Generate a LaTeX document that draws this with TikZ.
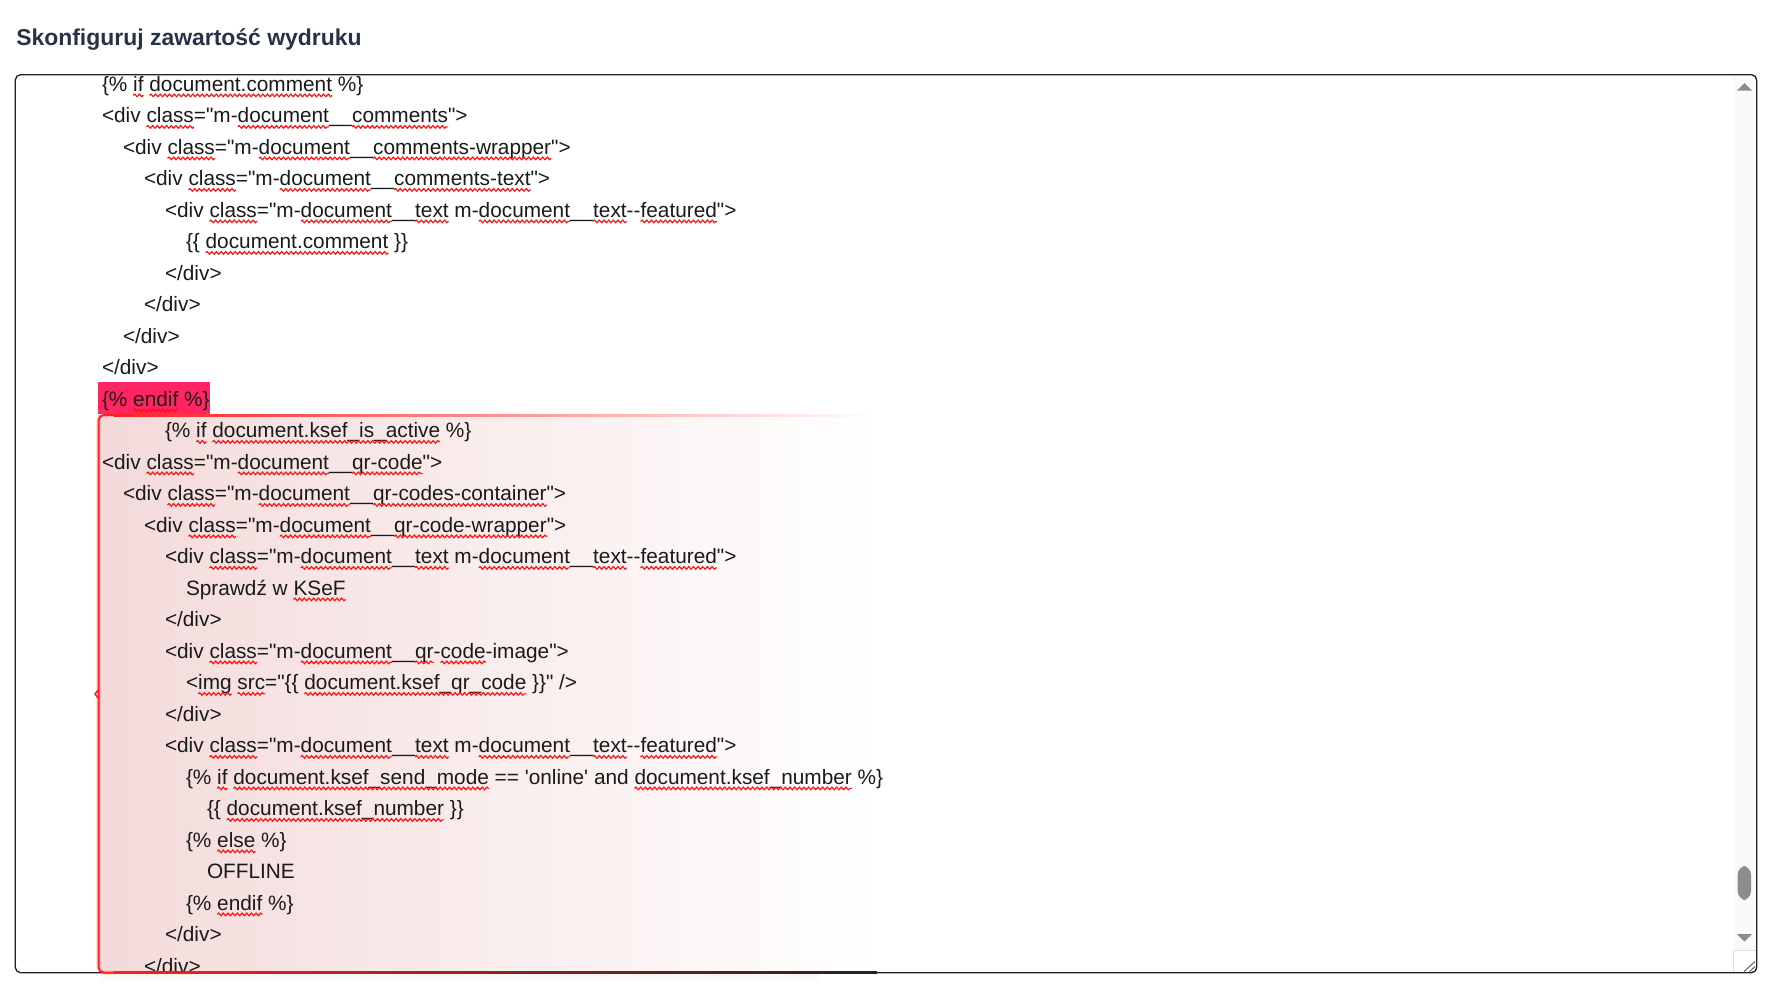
\documentclass[tikz,border=0pt]{standalone}
\usepackage{fontspec}
\newfontfamily\codefont{Liberation Sans}
\newfontfamily\titlefont{Liberation Sans}
\usetikzlibrary{decorations.pathmorphing}
\definecolor{codetext}{HTML}{1A1A1A}
\definecolor{titlecol}{HTML}{283247}
\definecolor{spellred}{HTML}{FF1010}
\definecolor{redline}{HTML}{FF2020}
\definecolor{redfill}{HTML}{F4DADA}
\definecolor{hilite}{HTML}{FF2462}
\definecolor{boxline}{HTML}{222222}
\definecolor{scrolltrack}{HTML}{FAFAFA}
\definecolor{scrollgray}{HTML}{8C8C8C}
\tikzset{
  codeln/.style={anchor=base west, inner sep=0pt, outer sep=0pt,
    font=\codefont\fontsize{15.6pt}{18pt}\selectfont, text=codetext},
  spellwave/.style={draw=spellred, line width=0.85pt, decorate,
    decoration={snake, amplitude=1pt, segment length=3.5pt}},
}
\newcommand\wv[1]{\tikz[baseline=(wvw.base)]{\node[inner sep=0pt,outer sep=0pt,anchor=base] (wvw) {#1};\draw[spellwave,overlay] ([yshift=-3.3pt]wvw.base west) -- ([yshift=-3.3pt]wvw.base east);}}
\newcommand\featline{<div \wv{class}="m-\wv{document}\_\_\wv{text} m-\wv{document}\_\_\wv{text}--\wv{featured}">}
\begin{document}
\begin{tikzpicture}[x=0.75pt,y=-0.75pt]
\fill[white] (0,0) rectangle (1769,986);
\useasboundingbox (0,0) rectangle (1769,986);

% title
\node[anchor=base west, inner sep=0pt, text=titlecol,
  font=\titlefont\bfseries\fontsize{17.2pt}{20pt}\selectfont] (title) at (16,45.7) {Skonfiguruj zawartość wydruku};

% shadow under the highlighted block
\shade[top color=black!3, bottom color=white] (100,974) rectangle (820,984);

% red block fill
\shade[left color=redfill, right color=white, rounded corners=4] (98.5,415) rectangle (877,972.7);
% glow of red left border
\draw[redline, opacity=0.12, line width=3.5pt, rounded corners=4] (115,415) -- (98.5,415) -- (98.5,972.5) -- (115,972.5);

% highlighted endif
\fill[hilite] (98.3,382.3) rectangle (210,414);

% scrollbar
\fill[scrolltrack] (1733,76) rectangle (1756,950);
\fill[scrollgray] (1737,90.7) -- (1752,90.7) -- (1744.5,83) -- cycle;
\fill[scrollgray] (1737,934) -- (1752,934) -- (1744.5,941.7) -- cycle;
\fill[scrollgray, rounded corners=6.5] (1737.7,866) rectangle (1751,900);
\draw[black!12, line width=0.75pt] (1733,973) -- (1733,950) -- (1757,950);
\draw[black!65, line width=0.7pt] (1744,971.5) -- (1755,961.5);
\draw[black!65, line width=0.7pt] (1749.5,971.5) -- (1755,966.5);

% code lines
\begin{scope}
\clip[rounded corners=4] (15.3,74.7) rectangle (1756.7,972.7);
\node[codeln] (l1) at (102,91) {\{\% \wv{if} \wv{document.comment} \%\}};
\node[codeln] (l2) at (102,122.5) {<div \wv{class}="m-\wv{document}\_\_\wv{comments}">};
\node[codeln] (l3) at (123,154) {<div \wv{class}="m-\wv{document}\_\_\wv{comments-wrapper}">};
\node[codeln] (l4) at (144,185.5) {<div \wv{class}="m-\wv{document}\_\_\wv{comments-text}">};
\node[codeln] (l5) at (165,217) {\featline};
\node[codeln] (l6) at (186,248.5) {\{\{ \wv{document.comment} \}\}};
\node[codeln] (l7) at (165,280) {</div>};
\node[codeln] (l8) at (144,311.5) {</div>};
\node[codeln] (l9) at (123,343) {</div>};
\node[codeln] (l10) at (102,374.5) {</div>};
\node[codeln] (l11) at (102,406) {\{\% \wv{endif} \%\}};
\node[codeln] (l12) at (165,437.5) {\{\% \wv{if} \wv{document.ksef\_is\_active} \%\}};
\node[codeln] (l13) at (102,469) {<div \wv{class}="m-\wv{document}\_\_\wv{qr-code}">};
\node[codeln] (l14) at (123,500.5) {<div \wv{class}="m-\wv{document}\_\_\wv{qr-codes-container}">};
\node[codeln] (l15) at (144,532) {<div \wv{class}="m-\wv{document}\_\_\wv{qr-code-wrapper}">};
\node[codeln] (l16) at (165,563.5) {\featline};
\node[codeln] (l17) at (186,595) {Sprawdź w \wv{KSeF}};
\node[codeln] (l18) at (165,626.5) {</div>};
\node[codeln] (l19) at (165,658) {<div \wv{class}="m-\wv{document}\_\_\wv{qr}-\wv{code}-image">};
\node[codeln] (l20) at (186,689.5) {<\wv{img} \wv{src}="\{\{ \wv{document.ksef\_qr\_code} \}\}" />};
\node[codeln] (l21) at (165,721) {</div>};
\node[codeln] (l22) at (165,752.5) {\featline};
\node[codeln] (l23) at (186,784) {\{\% \wv{if} \wv{document.ksef\_send\_mode} == 'online' and \wv{document.ksef\_number} \%\}};
\node[codeln] (l24) at (207,815.5) {\{\{ \wv{document.ksef\_number} \}\}};
\node[codeln] (l25) at (186,847) {\{\% \wv{else} \%\}};
\node[codeln] (l26) at (207,878.5) {OFFLINE};
\node[codeln] (l27) at (186,910) {\{\% \wv{endif} \%\}};
\node[codeln] (l28) at (165,941.5) {</div>};
\node[codeln] (l29) at (144,973) {</div>};
\end{scope}

% outer box
\draw[boxline, line width=1pt, rounded corners=4] (15.3,74.7) rectangle (1756.7,972.7);

% red block borders
\draw[redline, line width=1.5pt, rounded corners=4] (115,415) -- (98.5,415) -- (98.5,972.5) -- (115,972.5);
\draw[redline, line width=1.1pt] (98.5,689.5) -- (95,694) -- (98.5,698.5);
\shade[left color=redline, right color=white] (114,414) rectangle (877,416);
\shade[left color=redline, right color=boxline] (114,971.9) rectangle (877,973.5);
\end{tikzpicture}
\end{document}
